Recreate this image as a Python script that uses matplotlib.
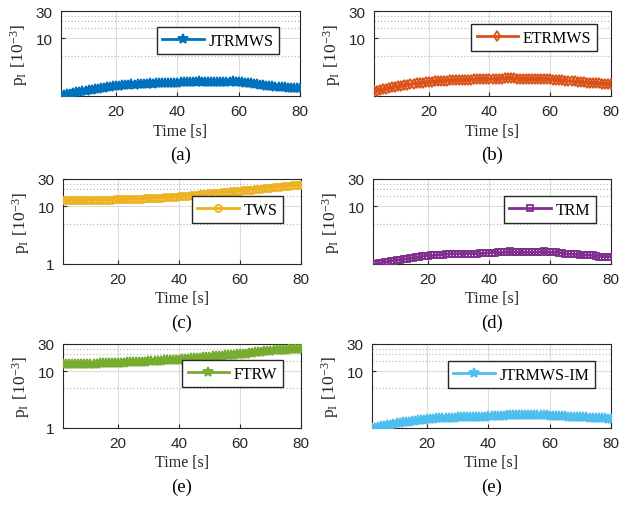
import numpy as np
import matplotlib
matplotlib.use("Agg")
import matplotlib.pyplot as plt
from matplotlib.ticker import FixedLocator, NullFormatter

plt.rcParams['font.family'] = 'Liberation Sans'

# temps (s)
temps = np.arange(2, 81)

# p_I [10^-3], une valeur par seconde
jtrmws = [1.02, 1.05, 1.08, 1.10, 1.13, 1.16, 1.18, 1.21, 1.24, 1.26,
          1.29, 1.32, 1.34, 1.37, 1.40, 1.42, 1.45, 1.47, 1.50, 1.52,
          1.54, 1.56, 1.55, 1.59, 1.58, 1.61, 1.60, 1.63, 1.62, 1.65,
          1.64, 1.66, 1.65, 1.68, 1.67, 1.69, 1.68, 1.71, 1.70, 1.72,
          1.73, 1.72, 1.75, 1.76, 1.77, 1.81, 1.78, 1.76, 1.75, 1.74,
          1.75, 1.74, 1.76, 1.75, 1.77, 1.78, 1.80, 1.76, 1.74, 1.72,
          1.70, 1.67, 1.65, 1.62, 1.60, 1.57, 1.55, 1.52, 1.50, 1.48,
          1.46, 1.44, 1.43, 1.41, 1.40, 1.39, 1.38, 1.37, 1.36]
etrmws = [1.20, 1.23, 1.27, 1.30, 1.34, 1.38, 1.41, 1.45, 1.48, 1.52,
          1.55, 1.58, 1.61, 1.64, 1.66, 1.69, 1.71, 1.73, 1.75, 1.77,
          1.79, 1.81, 1.82, 1.84, 1.85, 1.87, 1.88, 1.89, 1.90, 1.91,
          1.92, 1.92, 1.93, 1.94, 1.94, 1.95, 1.95, 1.96, 1.96, 1.97,
          1.98, 1.99, 2.01, 2.03, 2.06, 2.08, 2.04, 2.01, 1.99, 1.98,
          1.97, 1.97, 1.96, 1.96, 1.96, 1.95, 1.95, 1.95, 1.94, 1.93,
          1.91, 1.89, 1.87, 1.85, 1.83, 1.81, 1.79, 1.77, 1.75, 1.73,
          1.71, 1.70, 1.68, 1.67, 1.65, 1.64, 1.63, 1.62, 1.61]
tws = [12.8, 12.8, 12.8, 12.9, 12.9, 12.9, 12.9, 13.0, 13.0, 13.0,
       13.0, 13.1, 13.1, 13.1, 13.2, 13.2, 13.2, 13.3, 13.3, 13.3,
       13.4, 13.4, 13.5, 13.5, 13.6, 13.6, 13.7, 13.8, 13.9, 14.0,
       14.1, 14.2, 14.3, 14.4, 14.5, 14.6, 14.7, 14.8, 14.9, 15.0,
       15.2, 15.4, 15.6, 15.8, 16.0, 16.2, 16.4, 16.6, 16.8, 17.0,
       17.2, 17.4, 17.6, 17.8, 18.0, 18.2, 18.4, 18.6, 18.8, 19.0,
       19.2, 19.4, 19.6, 19.8, 20.0, 20.3, 20.6, 20.9, 21.2, 21.5,
       21.8, 22.1, 22.4, 22.7, 23.0, 23.2, 23.4, 23.6, 23.8]
trm = [1.00, 1.00, 1.03, 1.06, 1.08, 1.10, 1.13, 1.15, 1.17, 1.19,
       1.21, 1.23, 1.25, 1.28, 1.30, 1.33, 1.36, 1.40, 1.40, 1.41,
       1.42, 1.44, 1.45, 1.46, 1.48, 1.50, 1.50, 1.51, 1.51, 1.51,
       1.51, 1.52, 1.52, 1.52, 1.52, 1.53, 1.53, 1.55, 1.58, 1.58,
       1.58, 1.59, 1.59, 1.60, 1.62, 1.66, 1.62, 1.60, 1.60, 1.60,
       1.60, 1.60, 1.60, 1.60, 1.61, 1.62, 1.66, 1.62, 1.60, 1.60,
       1.60, 1.58, 1.55, 1.51, 1.48, 1.48, 1.48, 1.47, 1.45, 1.43,
       1.43, 1.43, 1.42, 1.38, 1.35, 1.35, 1.35, 1.35, 1.35]
ftrw = [13.2, 13.2, 13.3, 13.3, 13.3, 13.4, 13.4, 13.4, 13.5, 13.5,
        13.6, 13.6, 13.7, 13.7, 13.8, 13.8, 13.9, 13.9, 14.0, 14.0,
        14.1, 14.2, 14.2, 14.3, 14.4, 14.5, 14.6, 14.7, 14.8, 14.9,
        15.0, 15.1, 15.2, 15.4, 15.5, 15.6, 15.7, 15.8, 16.0, 16.1,
        16.3, 16.5, 16.7, 16.9, 17.1, 17.3, 17.5, 17.7, 17.9, 18.1,
        18.3, 18.5, 18.7, 18.9, 19.1, 19.3, 19.5, 19.7, 19.9, 20.1,
        20.4, 20.7, 21.0, 21.3, 21.6, 21.9, 22.2, 22.5, 22.8, 23.1,
        23.4, 23.6, 23.8, 24.0, 24.2, 24.4, 24.6, 24.8, 25.0]
jtrmws_im = [1.00, 1.02, 1.05, 1.07, 1.10, 1.12, 1.15, 1.17, 1.20, 1.22,
             1.25, 1.27, 1.29, 1.31, 1.34, 1.36, 1.38, 1.41, 1.43, 1.45,
             1.46, 1.47, 1.48, 1.49, 1.50, 1.51, 1.52, 1.52, 1.53, 1.54,
             1.55, 1.56, 1.56, 1.57, 1.57, 1.58, 1.58, 1.59, 1.60, 1.61,
             1.62, 1.63, 1.64, 1.65, 1.66, 1.67, 1.68, 1.69, 1.69, 1.70,
             1.70, 1.69, 1.69, 1.68, 1.68, 1.67, 1.66, 1.66, 1.65, 1.64,
             1.63, 1.62, 1.61, 1.60, 1.59, 1.58, 1.57, 1.56, 1.55, 1.54,
             1.53, 1.52, 1.51, 1.50, 1.49, 1.48, 1.47, 1.46, 1.45]

series = [jtrmws, etrmws, tws, trm, ftrw, jtrmws_im]
noms = ['JTRMWS', 'ETRMWS', 'TWS', 'TRM', 'FTRW', 'JTRMWS-IM']
legendes = ['(a)', '(b)', '(c)', '(d)', '(e)', '(e)']
couleurs = ['#0072BD', '#D95319', '#EDB120', '#7E2F8E', '#77AC30', '#4DBEEE']
marqueurs = ['*', 'd', 'o', 's', '*', '*']

W, H = 621, 506
# boites des axes en pixels : gauche, droite, haut, bas
boites = [(61, 300, 12, 97), (374, 611, 12, 97),
          (63, 301, 180, 265), (373, 611, 180, 265),
          (63, 301, 345, 429), (372, 611, 345, 429)]
ancres = [(279, 28), (597, 25), (283, 197), (596, 197), (283, 361), (595, 362)]

fig = plt.figure(figsize=(W / 100, H / 100), dpi=100)
gris = '#262626'

for i in range(6):
    g, d, h, b = boites[i]
    ax = fig.add_axes([g / W, 1 - b / H, (d - g) / W, (b - h) / H])
    plein = marqueurs[i] == '*'
    ax.plot(temps, series[i], color=couleurs[i], marker=marqueurs[i], lw=2.0,
            ms=7.5 if plein else 5, mfc=couleurs[i] if plein else 'none',
            mew=1.3, label=noms[i], zorder=3)
    ax.set_yscale('log')
    ax.set_ylim(1, 30)
    ax.set_xlim(2, 80)
    ax.set_xticks([20, 40, 60, 80])
    if i in (2, 4):
        ax.yaxis.set_major_locator(FixedLocator([1, 10, 30]))
    else:
        ax.yaxis.set_major_locator(FixedLocator([10, 30]))
    ax.yaxis.set_minor_locator(FixedLocator([5, 15, 20, 25]))
    ax.yaxis.set_minor_formatter(NullFormatter())
    ax.set_yticklabels(['1', '10', '30'] if i in (2, 4) else ['10', '30'])
    ax.grid(which='major', color='#dcdcdc', lw=0.8)
    ax.grid(which='minor', axis='y', color='#b4b4b4', lw=0.8, ls=(0, (1, 2)))
    ax.set_axisbelow(True)
    ax.tick_params(which='both', direction='in', colors=gris, labelsize=11, pad=6)
    ax.tick_params(which='major', length=3)
    ax.tick_params(which='minor', length=0)
    for s in ax.spines.values():
        s.set_color(gris)
        s.set_linewidth(0.8)
    ax.set_xlabel('Time [s]', fontfamily='Liberation Serif', fontsize=11.5,
                  color=gris, labelpad=3)
    ax.set_ylabel(r'$\mathregular{p_I\ [10^{-3}]}$', fontfamily='Liberation Serif',
                  fontsize=12.5, color=gris, labelpad=4)
    ax.legend(loc='upper right', bbox_to_anchor=(ancres[i][0] / W, 1 - ancres[i][1] / H),
              bbox_transform=fig.transFigure, borderaxespad=0, fancybox=False,
              framealpha=1, edgecolor=gris, handlelength=2.6, handletextpad=0.3,
              borderpad=0.35, prop={'family': 'Liberation Serif', 'size': 11.5})
    fig.text((g + d) / 2 / W, 1 - (b + 58) / H, legendes[i], ha='center', va='center',
             fontfamily='Liberation Serif', fontsize=13.5)

fig.savefig('out.png', dpi=100)
